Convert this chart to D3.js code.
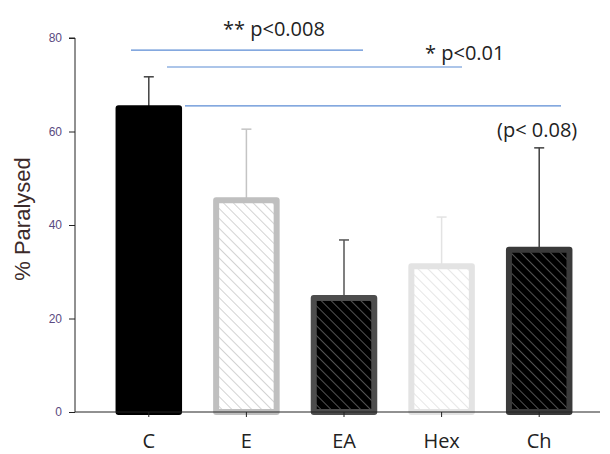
<!DOCTYPE html>
<html>
<head>
<meta charset="utf-8">
<script src="https://cdn.jsdelivr.net/npm/d3@7"></script>
<style>
  body { margin: 0; background: #fff; }
  svg { display: block; }
</style>
</head>
<body>
<div id="chart"></div>
<script>
// chart data
const groups = ['C', 'E', 'EA', 'Hex', 'Ch'];
const means = [65.0, 45.3, 24.4, 31.2, 34.7];
const errors = [6.7, 15.2, 12.4, 10.5, 21.8];
const yTicks = [0, 20, 40, 60, 80];
// bar style per group: fill, stroke, hatch
const barFill = ['#000', '#fff', '#000', '#fff', '#000'];
const barStroke = ['#000', '#bfbfbf', '#4d4d4d', '#e3e3e3', '#3a3a3a'];
const hatchColor = [null, '#b5b5b5', '#8a8a8a', '#d6d6d6', '#8a8a8a'];
const errColor = ['#404040', '#c4c4c4', '#555', '#e3e3e3', '#404040'];
// significance labels
const sigLabels = ['** p<0.008', '* p<0.01', '(p< 0.08)'];

const width = 610, height = 454;
const svg = d3.select('#chart').append('svg')
    .attr('width', width)
    .attr('height', height);

const defs = svg.append('defs');
groups.forEach((g, i) => {
    if (!hatchColor[i]) return;
    const p = defs.append('pattern')
        .attr('id', 'hatch' + i)
        .attr('patternUnits', 'userSpaceOnUse')
        .attr('width', 7).attr('height', 7)
        .attr('patternTransform', 'rotate(-45)');
    p.append('rect').attr('width', 7).attr('height', 7).attr('fill', barFill[i]);
    p.append('line')
        .attr('x1', 0).attr('y1', 0).attr('x2', 0).attr('y2', 7)
        .attr('stroke', hatchColor[i]).attr('stroke-width', 1.2);
});

const axisX = 75;
const y = d3.scaleLinear().domain([0, 80]).range([412, 38]);
const x = d3.scaleBand().domain(groups).range([100, 588])
    .paddingInner(0.38).paddingOuter(0.19);

// y axis
const yAxis = svg.append('g')
    .attr('transform', `translate(${axisX},0)`)
    .call(d3.axisLeft(y).tickValues(yTicks).tickSize(6).tickPadding(7));
yAxis.select('.domain').attr('d', `M-6,${y(80)}H0V${y(0)}`).attr('stroke', '#222');
yAxis.selectAll('.tick line').attr('stroke', '#222');
yAxis.selectAll('.tick text')
    .attr('font-family', 'Liberation Sans, Arial, sans-serif')
    .attr('font-size', 12)
    .attr('fill', '#5a4a80');

svg.append('text')
    .attr('transform', `translate(30,${y(40) - 6}) rotate(-90)`)
    .attr('text-anchor', 'middle')
    .attr('font-family', 'Liberation Sans, Arial, sans-serif')
    .attr('font-size', 22)
    .attr('fill', '#3b2a2a')
    .text('% Paralysed');

// error bars
const capW = 5;
svg.append('g').selectAll('g')
    .data(groups)
    .join('g')
    .each(function(g, i) {
        const cx = x(g) + x.bandwidth() / 2;
        const top = y(means[i] + errors[i]);
        const sel = d3.select(this);
        sel.append('line')
            .attr('x1', cx).attr('x2', cx)
            .attr('y1', y(means[i])).attr('y2', top)
            .attr('stroke', errColor[i]).attr('stroke-width', 1.5);
        sel.append('line')
            .attr('x1', cx - capW).attr('x2', cx + capW)
            .attr('y1', top).attr('y2', top)
            .attr('stroke', errColor[i]).attr('stroke-width', 1.5);
    });

// bars
svg.append('g').selectAll('rect')
    .data(groups)
    .join('rect')
    .attr('x', d => x(d))
    .attr('y', (d, i) => y(means[i]))
    .attr('width', x.bandwidth())
    .attr('height', (d, i) => y(0) - y(means[i]))
    .attr('fill', (d, i) => hatchColor[i] ? `url(#hatch${i})` : barFill[i])
    .attr('stroke', (d, i) => barStroke[i])
    .attr('stroke-width', 6)
    .attr('stroke-linejoin', 'round');

// x axis
const xAxis = svg.append('g')
    .attr('transform', `translate(0,${y(0)})`)
    .call(d3.axisBottom(x).tickSize(5).tickPadding(17));
xAxis.select('.domain').attr('d', `M${axisX},0H600`).attr('stroke', '#222');
xAxis.selectAll('.tick line').attr('stroke', '#222');
xAxis.selectAll('.tick text')
    .attr('font-family', 'Open Sans, sans-serif')
    .attr('font-size', 20)
    .attr('fill', '#222');

// significance lines (positions in data units on the y scale)
const sigLines = [
    { x1: 131, x2: 363, yv: 77.4, lx: 223, ly: 80.4 },
    { x1: 167, x2: 462, yv: 73.8, lx: 425, ly: 75.3 },
    { x1: 185, x2: 561, yv: 65.5, lx: 497, ly: 58.8 }
];
svg.append('g').selectAll('line')
    .data(sigLines)
    .join('line')
    .attr('x1', d => d.x1).attr('x2', d => d.x2)
    .attr('y1', d => y(d.yv)).attr('y2', d => y(d.yv))
    .attr('stroke', '#5b8bd4').attr('stroke-width', 1.2);

svg.append('g').selectAll('text')
    .data(sigLines)
    .join('text')
    .attr('x', d => d.lx)
    .attr('y', d => y(d.ly))
    .attr('font-family', 'Open Sans, sans-serif')
    .attr('font-size', 20)
    .attr('fill', '#222')
    .text((d, i) => sigLabels[i]);
</script>
</body>
</html>
